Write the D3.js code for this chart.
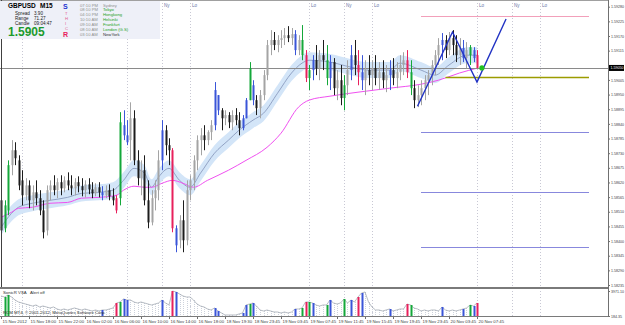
<!DOCTYPE html>
<html>
<head>
<meta charset="utf-8">
<script src="https://cdn.jsdelivr.net/npm/d3@7"></script>
<style>
body { margin: 0; background: #fff; }
svg { display: block; font-family: "Liberation Sans", sans-serif; }
</style>
</head>
<body>
<div id="chart"></div>
<script>
// GBPUSD M15 candles
var opens = [1.58553,1.58448,1.58515,1.58685,1.58741,1.58703,1.58628,1.58572,1.58609,1.58553,1.58583,1.58561,1.58515,1.58440,1.58591,1.58609,1.58591,1.58621,1.58598,1.58628,
  1.58609,1.58598,1.58621,1.58606,1.58591,1.58613,1.58594,1.58579,1.58602,1.58583,1.58572,1.58591,1.58568,1.58561,1.58561,1.58835,1.58797,1.58779,1.58861,1.58703,
  1.58636,1.58666,1.58553,1.58470,1.58561,1.58591,1.58703,1.58816,1.58760,1.58741,1.58448,1.58403,1.58478,1.58403,1.58591,1.58628,1.58703,1.58779,1.58797,1.58779,
  1.58809,1.58835,1.58948,1.58891,1.58861,1.58873,1.58846,1.58873,1.58854,1.58824,1.58861,1.58929,1.58985,1.58929,1.58899,1.58948,1.59023,1.59136,1.59155,1.59136,
  1.59155,1.59162,1.59173,1.59162,1.59177,1.59117,1.59155,1.59098,1.59012,1.59042,1.59079,1.59049,1.59098,1.59079,1.59012,1.59072,1.58974,1.59004,1.58937,1.58985,
  1.59042,1.59098,1.59061,1.59034,1.59004,1.59042,1.59023,1.59049,1.59012,1.59034,1.59004,1.59023,1.59042,1.59012,1.59034,1.59061,1.59079,1.59034,1.58974,1.58929,
  1.58948,1.58974,1.59004,1.59023,1.59061,1.59098,1.59136,1.59155,1.59117,1.59162,1.59136,1.59098,1.59125,1.59087,1.59098,1.59117,1.59098];
var highs = [1.58591,1.58553,1.58703,1.58779,1.58771,1.58722,1.58666,1.58636,1.58628,1.58609,1.58628,1.58591,1.58553,1.58609,1.58628,1.58647,1.58636,1.58647,1.58643,1.58658,
  1.58647,1.58636,1.58643,1.58636,1.58628,1.58636,1.58621,1.58617,1.58621,1.58606,1.58609,1.58613,1.58598,1.58572,1.58884,1.58891,1.58854,1.58921,1.58891,1.58741,
  1.58703,1.58722,1.58628,1.58591,1.58628,1.58741,1.58854,1.58835,1.58786,1.58749,1.58459,1.58497,1.58553,1.58628,1.58647,1.58722,1.58797,1.58824,1.58835,1.58816,
  1.58854,1.58997,1.58948,1.58899,1.58891,1.58884,1.58891,1.58899,1.58884,1.58873,1.58937,1.59072,1.59004,1.58948,1.58967,1.59042,1.59155,1.59192,1.59185,1.59173,
  1.59192,1.59200,1.59207,1.59200,1.59192,1.59173,1.59211,1.59117,1.59061,1.59098,1.59136,1.59117,1.59155,1.59136,1.59098,1.59087,1.59042,1.59061,1.59023,1.59079,
  1.59136,1.59155,1.59117,1.59098,1.59079,1.59098,1.59079,1.59098,1.59072,1.59079,1.59061,1.59079,1.59087,1.59072,1.59098,1.59109,1.59117,1.59079,1.59004,1.58985,
  1.59004,1.59023,1.59042,1.59079,1.59117,1.59162,1.59181,1.59173,1.59185,1.59192,1.59173,1.59162,1.59155,1.59147,1.59136,1.59128,1.59117];
var lows = [1.58403,1.58433,1.58497,1.58647,1.58685,1.58591,1.58534,1.58553,1.58523,1.58515,1.58534,1.58497,1.58410,1.58421,1.58553,1.58572,1.58561,1.58572,1.58583,1.58591,
  1.58572,1.58572,1.58583,1.58568,1.58564,1.58576,1.58561,1.58568,1.58564,1.58553,1.58561,1.58553,1.58534,1.58504,1.58534,1.58779,1.58760,1.58703,1.58685,1.58609,
  1.58572,1.58534,1.58448,1.58459,1.58515,1.58553,1.58666,1.58722,1.58685,1.58433,1.58358,1.58373,1.58358,1.58384,1.58553,1.58591,1.58666,1.58722,1.58741,1.58760,
  1.58779,1.58816,1.58873,1.58816,1.58835,1.58824,1.58816,1.58835,1.58797,1.58816,1.58861,1.58929,1.58910,1.58873,1.58861,1.58929,1.59004,1.59098,1.59117,1.59109,
  1.59125,1.59136,1.59147,1.59136,1.59098,1.59098,1.59079,1.58997,1.58967,1.59004,1.59023,1.59004,1.59042,1.58985,1.58967,1.58948,1.58929,1.58910,1.58891,1.58948,
  1.59004,1.59023,1.58985,1.58967,1.58948,1.58985,1.58967,1.58985,1.58967,1.58974,1.58959,1.58967,1.58985,1.58974,1.59004,1.59023,1.59012,1.58948,1.58899,1.58903,
  1.58910,1.58929,1.58948,1.58985,1.59023,1.59061,1.59079,1.59087,1.59098,1.59098,1.59072,1.59061,1.59072,1.59049,1.59061,1.59072,1.59049];
var closes = [1.58440,1.58534,1.58685,1.58741,1.58711,1.58609,1.58572,1.58609,1.58553,1.58583,1.58561,1.58515,1.58433,1.58591,1.58609,1.58591,1.58621,1.58598,1.58628,1.58609,
  1.58598,1.58621,1.58606,1.58591,1.58613,1.58594,1.58579,1.58602,1.58583,1.58572,1.58591,1.58568,1.58553,1.58515,1.58846,1.58797,1.58771,1.58861,1.58703,1.58636,
  1.58666,1.58553,1.58470,1.58561,1.58591,1.58703,1.58816,1.58760,1.58741,1.58448,1.58384,1.58478,1.58403,1.58591,1.58628,1.58703,1.58779,1.58797,1.58779,1.58809,
  1.58835,1.58967,1.58891,1.58861,1.58873,1.58846,1.58873,1.58854,1.58824,1.58861,1.58929,1.59049,1.58929,1.58899,1.58948,1.59023,1.59136,1.59155,1.59136,1.59155,
  1.59162,1.59173,1.59162,1.59177,1.59117,1.59155,1.59098,1.59012,1.59042,1.59079,1.59049,1.59098,1.59079,1.59012,1.59072,1.58974,1.59004,1.58937,1.58985,1.59042,
  1.59098,1.59061,1.59034,1.59004,1.59042,1.59023,1.59049,1.59012,1.59034,1.59004,1.59023,1.59042,1.59012,1.59034,1.59061,1.59079,1.59034,1.58974,1.58929,1.58948,
  1.58974,1.59004,1.59023,1.59061,1.59098,1.59136,1.59155,1.59117,1.59162,1.59136,1.59098,1.59125,1.59087,1.59117,1.59128,1.59087,1.59050];

// SonicR VSA tick volume
var volumes = [3214,3063,3366,3063,2608,2305,2154,2002,1851,1699,1851,1548,1699,1548,1396,1548,1245,1093,1245,1093,
  1245,1396,1245,1093,1245,1093,942,1093,942,1093,1093,1245,1396,2154,2305,2760,2608,2608,2305,2154,
  2305,2154,2002,1851,2002,2154,2608,2154,1851,3971,3820,3517,3214,3063,3063,2608,2002,1699,1548,1245,
  1093,1396,942,639,336,336,336,336,487,639,1851,2002,2154,1699,1093,942,1093,942,790,790,
  639,790,639,790,1245,1245,1396,2305,2305,2154,1851,1699,1851,1851,2608,2154,2002,2154,2760,2154,
  2608,2305,3063,3668,3820,2305,1548,1093,1093,942,1093,1245,942,1093,1245,1245,2002,1851,1396,1245,
  942,1093,942,1093,1093,942,1548,1093,942,1093,942,1093,1245,1396,1851,1699,2154];

// VSA signal bars
var greenBars = [1,2,34,71,86,88,93,98,117,134];
var blueBars = [29,35,36,46,50,61,62,69,70,72,84,89,94,100,103,111,126,132,135];
var redBars = [33,49,87,102,116,136];

// moving averages (bar index, price)
var fastMaIdx = [0,3,5,9,14,19,23,28,32,35,38,41,43,45,48,51,54,57,61,65,68,72,75,79,83,86,88,94,100,105,111,114,120,124,128,133,136];
var fastMa = [1.58451,1.58504,1.58527,1.58542,1.58553,1.58564,1.58579,1.58583,1.58591,1.58628,1.58673,1.58655,1.58602,1.58640,1.58673,1.58628,1.58602,1.58655,1.58730,1.58779,
  1.58816,1.58854,1.58880,1.58955,1.59031,1.59068,1.59079,1.59072,1.59053,1.59042,1.59042,1.59068,1.59042,1.59023,1.59061,1.59098,1.59098];
var bandWidth = 0.00030;
var slowMaIdx = [0,3,5,9,14,19,23,28,33,35,38,41,43,46,49,52,55,59,65,70,76,80,85,88,94,102,111,120,125,131,136];
var slowMa = [1.58489,1.58508,1.58523,1.58527,1.58542,1.58545,1.58561,1.58564,1.58572,1.58591,1.58606,1.58602,1.58602,1.58617,1.58628,1.58617,1.58602,1.58628,1.58666,1.58703,
  1.58752,1.58805,1.58903,1.58929,1.58944,1.58959,1.58974,1.58989,1.59004,1.59031,1.59049];

// price levels drawn on the right
var levelPrices = [1.59245, 1.59015, 1.58809, 1.58583, 1.58376];
var levelStart = [120, 127, 120, 120, 120];
var levelColors = ["#f2a0ba", "#9c9c00", "#8888dd", "#8888dd", "#8888dd"];
var levelEnd = 168;

// zigzag pattern
var zigIdx = [119, 129, 136, 144.3];
var zigPrice = [1.58906, 1.59185, 1.58997, 1.59234];

var bidPrice = 1.59050;

// session lines
var sessionIdx = [6, 36, 46, 54, 88, 98, 106, 136, 146, 154];
var sessionName = ["Lo", "Lo", "Ny", "Lo", "Lo", "Ny", "Lo", "Lo", "Ny", "Lo"];

// axes
var priceTicks = [1.59280,1.59225,1.59170,1.59115,1.59005,1.58950,1.58895,1.58840,1.58785,1.58730,
  1.58675,1.58620,1.58565,1.58510,1.58455,1.58400,1.58345,1.58290,1.58235];
var timeIdx = [0,8,16,24,32,40,48,56,64,72,80,88,96,104,112,120,128,136];
var timeText = ["15 Nov 2012","15 Nov 18:00","15 Nov 22:00","16 Nov 02:00","16 Nov 06:00","16 Nov 10:00",
  "16 Nov 14:00","16 Nov 18:00","18 Nov 19:30","18 Nov 23:45","19 Nov 03:45","19 Nov 07:45","19 Nov 11:45",
  "19 Nov 15:45","19 Nov 19:45","19 Nov 23:45","20 Nov 03:45","20 Nov 07:45"];

// info panel
var infoLabels = ["Spread", "Range", "Candle"];
var infoValues = ["3.90", "71.27", "09:04:47"];
var sessTimes = ["07:10 PM","08:10 PM","04:10 PM","10:10 AM","09:10 AM","08:10 AM","03:10 AM"];
var sessCities = ["Sydney","Tokyo","Hongkong","Helsinki","Frankfurt","London (G.S)","NewYork"];
var sessColors = ["#909090","#22a022","#22a022","#22a022","#22a022","#22a022","#303030"];

var width = 625, height = 325,
    axisX = 608,
    mainBottom = 287,
    volTop = 289, volBottom = 316,
    panelWidth = 160,
    axisFont = 3.6;

var svg = d3.select("#chart").append("svg")
    .attr("width", width)
    .attr("height", height);

var x = d3.scaleLinear().domain([0, 136]).range([1, 477]);
var y = d3.scaleLinear().domain([1.58235, 1.59280]).range([285, 6.7]);
var vy = d3.scaleLinear().domain([184.35, 3971.10]).range([volBottom, 291]);

var bars = opens.map(function(o, i) {
    return {i: i, o: o, h: highs[i], l: lows[i], c: closes[i], v: volumes[i]};
});

function isSignal(d) {
    return greenBars.indexOf(d.i) >= 0 || blueBars.indexOf(d.i) >= 0 || redBars.indexOf(d.i) >= 0;
}
function barColor(d) {
    if (greenBars.indexOf(d.i) >= 0) return "#14a83a";
    if (blueBars.indexOf(d.i) >= 0) return "#3a55d8";
    if (redBars.indexOf(d.i) >= 0) return "#e8205c";
    return d.c >= d.o ? "#a4a4a4" : "#1c1c1c";
}

var main = svg.append("g");
main.append("clipPath").attr("id", "mainclip")
    .append("rect").attr("x", 0).attr("y", 0).attr("width", axisX).attr("height", mainBottom);

// session lines
main.append("g").selectAll("line")
    .data(sessionIdx)
    .join("line")
    .attr("x1", function(d) { return Math.round(x(d)) + 0.5; })
    .attr("x2", function(d) { return Math.round(x(d)) + 0.5; })
    .attr("y1", 0).attr("y2", volBottom)
    .attr("stroke", "#c8c8d4")
    .attr("stroke-dasharray", "1,2");

// labels only where the info panel does not cover them
main.append("g").selectAll("text")
    .data(sessionIdx.filter(function(d) { return x(d) > panelWidth; }))
    .join("text")
    .attr("x", function(d) { return x(d) + 2; })
    .attr("y", 7)
    .attr("font-size", 4.6)
    .attr("fill", "#6a78a8")
    .text(function(d) { return sessionName[sessionIdx.indexOf(d)]; });

var plot = main.append("g").attr("clip-path", "url(#mainclip)");

// band around fast MA
var fastPts = fastMaIdx.map(function(d, i) { return [d, fastMa[i]]; });
plot.append("path")
    .datum(fastPts)
    .attr("d", d3.area()
        .x(function(d) { return x(d[0]); })
        .y0(function(d) { return y(d[1] - bandWidth); })
        .y1(function(d) { return y(d[1] + bandWidth); })
        .curve(d3.curveMonotoneX))
    .attr("fill", "#d3e5f8");

plot.append("path")
    .datum(fastPts)
    .attr("d", d3.line()
        .x(function(d) { return x(d[0]); })
        .y(function(d) { return y(d[1]); })
        .curve(d3.curveMonotoneX))
    .attr("fill", "none")
    .attr("stroke", "#8292b8")
    .attr("stroke-width", 0.8);

plot.append("path")
    .datum(slowMaIdx.map(function(d, i) { return [d, slowMa[i]]; }))
    .attr("d", d3.line()
        .x(function(d) { return x(d[0]); })
        .y(function(d) { return y(d[1]); })
        .curve(d3.curveMonotoneX))
    .attr("fill", "none")
    .attr("stroke", "#f050f0")
    .attr("stroke-width", 1);

// bid line
plot.append("line")
    .attr("x1", 0).attr("x2", axisX)
    .attr("y1", Math.round(y(bidPrice)) + 0.5).attr("y2", Math.round(y(bidPrice)) + 0.5)
    .attr("stroke", "#8a8a8a");

// levels
plot.append("g").selectAll("line")
    .data(levelPrices)
    .join("line")
    .attr("x1", function(d, i) { return x(levelStart[i]); })
    .attr("x2", x(levelEnd))
    .attr("y1", function(d) { return Math.round(y(d)) + 0.5; })
    .attr("y2", function(d) { return Math.round(y(d)) + 0.5; })
    .attr("stroke", function(d, i) { return levelColors[i]; })
    .attr("stroke-width", function(d, i) { return i == 1 ? 1.5 : 1; });

// candles
var candles = plot.append("g").selectAll("g")
    .data(bars)
    .join("g");
candles.append("line")
    .attr("x1", function(d) { return Math.round(x(d.i)) + 0.5; })
    .attr("x2", function(d) { return Math.round(x(d.i)) + 0.5; })
    .attr("y1", function(d) { return y(d.h); })
    .attr("y2", function(d) { return y(d.l); })
    .attr("stroke", barColor);
candles.append("rect")
    .attr("x", function(d) { return Math.round(x(d.i)) - 0.5; })
    .attr("width", 2)
    .attr("y", function(d) { return y(Math.max(d.o, d.c)); })
    .attr("height", function(d) { return Math.max(1, Math.abs(y(d.o) - y(d.c))); })
    .attr("fill", barColor);

// zigzag
plot.append("path")
    .datum(zigIdx.map(function(d, i) { return [d, zigPrice[i]]; }))
    .attr("d", d3.line()
        .x(function(d) { return x(d[0]); })
        .y(function(d) { return y(d[1]); }))
    .attr("fill", "none")
    .attr("stroke", "#2233c4")
    .attr("stroke-width", 1.4);

plot.append("circle")
    .attr("cx", x(137.4)).attr("cy", y(bidPrice))
    .attr("r", 2.6)
    .attr("fill", "#22c022");

// frame
svg.append("line").attr("x1", 0).attr("x2", axisX).attr("y1", 0.5).attr("y2", 0.5).attr("stroke", "#a0a0a0");
svg.append("line").attr("x1", 1.5).attr("x2", 1.5).attr("y1", 0).attr("y2", mainBottom).attr("stroke", "#404040");
svg.append("rect").attr("x", 0).attr("y", mainBottom).attr("width", axisX + 1).attr("height", 2).attr("fill", "#7a7a7a");
svg.append("line").attr("x1", 0).attr("x2", axisX).attr("y1", volBottom + 0.5).attr("y2", volBottom + 0.5).attr("stroke", "#7a7a7a");

// price axis
var pAxis = svg.append("g")
    .attr("transform", "translate(" + axisX + ",0)")
    .call(d3.axisRight(y).tickValues(priceTicks).tickFormat(d3.format(".5f")).tickSize(2).tickPadding(1));
pAxis.select(".domain").attr("d", "M0.5,0V" + volBottom).attr("stroke", "#707070");
pAxis.selectAll("text").attr("font-size", axisFont).attr("fill", "#404040").attr("font-family", "Liberation Sans");
pAxis.selectAll("line").attr("stroke", "#707070");

// bid label
svg.append("rect").attr("x", axisX + 1).attr("y", y(bidPrice) - 3).attr("width", 15).attr("height", 6).attr("fill", "#000");
svg.append("text").attr("x", axisX + 2.5).attr("y", y(bidPrice) + 1.3)
    .attr("font-size", axisFont).attr("fill", "#fff")
    .text(d3.format(".5f")(bidPrice));

// volume pane
var vol = svg.append("g");
vol.append("g").selectAll("line")
    .data(bars)
    .join("line")
    .attr("x1", function(d) { return Math.round(x(d.i)) + 0.5; })
    .attr("x2", function(d) { return Math.round(x(d.i)) + 0.5; })
    .attr("y1", function(d) { return vy(d.v); })
    .attr("y2", volBottom)
    .attr("stroke", "#cdd2dc")
    .attr("stroke-dasharray", "1,1");
vol.append("path")
    .datum(bars)
    .attr("d", d3.line().x(function(d) { return x(d.i); }).y(function(d) { return vy(d.v); }))
    .attr("fill", "none")
    .attr("stroke", "#9aa0aa")
    .attr("stroke-width", 0.7);
vol.append("g").selectAll("rect")
    .data(bars.filter(isSignal))
    .join("rect")
    .attr("x", function(d) { return Math.round(x(d.i)) - 0.5; })
    .attr("width", 2)
    .attr("y", function(d) { return vy(d.v); })
    .attr("height", function(d) { return volBottom - vy(d.v); })
    .attr("fill", barColor);

var vAxis = svg.append("g")
    .attr("transform", "translate(" + axisX + ",0)")
    .call(d3.axisRight(vy).tickValues([3971.10, 184.35]).tickFormat(d3.format(".2f")).tickSize(2).tickPadding(1));
vAxis.select(".domain").remove();
vAxis.selectAll("text").attr("font-size", axisFont).attr("fill", "#404040").attr("font-family", "Liberation Sans");
vAxis.selectAll("line").attr("stroke", "#707070");

vol.append("text").attr("x", 3).attr("y", 294).attr("font-size", 4.3).attr("fill", "#303030").text("SonicR VSA");
vol.append("text").attr("x", 30).attr("y", 294).attr("font-size", 4.3).attr("fill", "#303030").text("Alert off");
vol.append("text").attr("x", 3).attr("y", 314).attr("font-size", 4.3).attr("fill", "#303030")
    .text("RCM MT4, \u00a9 2001-2012, MetaQuotes Software Corp.");

// time axis
var tAxis = svg.append("g")
    .attr("transform", "translate(0," + (volBottom + 1) + ")")
    .call(d3.axisBottom(x).tickValues(timeIdx).tickFormat(function(d, i) { return timeText[i]; }).tickSize(2).tickPadding(1));
tAxis.select(".domain").remove();
tAxis.selectAll("text").attr("font-size", 4.3).attr("fill", "#404040")
    .attr("text-anchor", "start").attr("dx", 1).attr("font-family", "Liberation Sans");
tAxis.selectAll("line").attr("stroke", "#707070");

// info panel
var info = svg.append("g");
info.append("rect").attr("x", 0).attr("y", 1).attr("width", panelWidth).attr("height", 38).attr("fill", "#eef0f8");
info.append("text").attr("x", 8).attr("y", 8).attr("font-size", 6.5).attr("font-weight", "bold").attr("fill", "#000")
    .text("GBPUSD");
info.append("text").attr("x", 40).attr("y", 8).attr("font-size", 6.5).attr("font-weight", "bold").attr("fill", "#000")
    .text("M15");
infoLabels.forEach(function(t, i) {
    info.append("text").attr("x", 15).attr("y", 14.5 + i * 5).attr("font-size", 4.6).attr("fill", "#202020").text(t);
    info.append("text").attr("x", 34).attr("y", 14.5 + i * 5).attr("font-size", 4.6).attr("fill", "#202020").text(infoValues[i]);
});
info.append("text").attr("x", 8).attr("y", 36).attr("font-size", 12).attr("font-weight", "bold").attr("fill", "#1c9a2c")
    .text(d3.format(".4f")(bidPrice));
info.append("text").attr("x", 63).attr("y", 9).attr("font-size", 7).attr("font-weight", "bold").attr("fill", "#2030d0").text("S");
["T", "H", "I", "C"].forEach(function(s, i) {
    info.append("text").attr("x", 65).attr("y", 14.5 + i * 5).attr("font-size", 4.2).attr("fill", "#e06090").text(s);
});
info.append("text").attr("x", 63).attr("y", 37).attr("font-size", 7).attr("font-weight", "bold").attr("fill", "#e8205c").text("R");
sessTimes.forEach(function(t, i) {
    info.append("text").attr("x", 80).attr("y", 6.5 + i * 4.9).attr("font-size", 4.2).attr("fill", "#909090").text(t);
    info.append("text").attr("x", 103).attr("y", 6.5 + i * 4.9).attr("font-size", 4.2).attr("fill", sessColors[i]).text(sessCities[i]);
});
</script>
</body>
</html>
